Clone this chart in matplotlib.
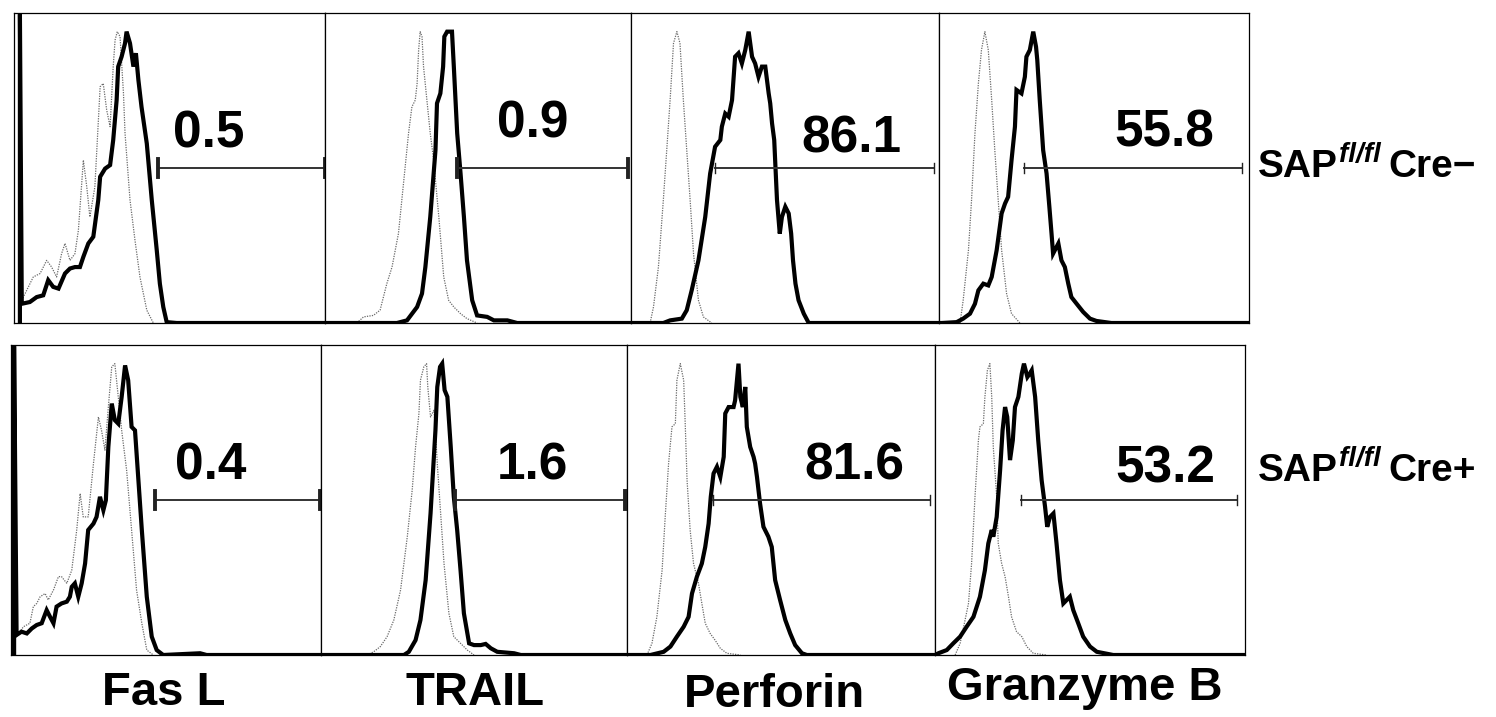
import matplotlib
matplotlib.use("Agg")
import matplotlib.pyplot as plt

plt.rcParams['font.family'] = ['Liberation Sans', 'DejaVu Sans']
plt.rcParams['font.weight'] = 'bold'

# Marcadores e genótipos
markers = ["Fas L", "TRAIL", "Perforin", "Granzyme B"]
geno_base = "SAP"
geno_sup = "fl/fl"
geno_cre = ["Cre−", "Cre+"]

# % de células positivas dentro do gate (linha 0 = Cre-, linha 1 = Cre+)
pct_neg = ["0.5", "0.9", "86.1", "55.8"]
pct_pos = ["0.4", "1.6", "81.6", "53.2"]

# Gates (início, fim) na escala 0-100 do eixo de fluorescência
gate_neg = [(46.3, 100.0), (43.1, 99.0), (27.4, 98.4), (27.4, 97.7)]
gate_pos = [(46.5, 99.7), (43.8, 99.3), (27.9, 98.4), (27.7, 97.4)]

# Histogramas (x = fluorescência 0-100, y = % do pico)
# --- Cre- ---
fasl_neg_x = [1.9, 1.9, 2.5, 5.1, 7.3, 9.4, 11.0, 12.6, 14.3, 16.4, 18.0, 19.6, 21.2, 22.3, 23.9, 25.5,
              27.1, 27.7, 29.3, 30.9, 31.9, 33.0, 33.5, 34.6, 35.7, 36.2, 37.3, 38.4, 39.2, 40.0,
              41.0, 42.7, 44.3, 45.9, 46.9, 48.0, 49.1, 52.3, 100]
fasl_neg_y = [0, 106, 6.6, 7.2, 8.9, 9.5, 14.7, 12.4, 11.8, 17.0, 18.7, 19.2, 19.2, 22.7, 27.3, 29.6,
              42.2, 50.2, 53.0, 54.2, 62.8, 76.5, 88.0, 91.4, 96.0, 100, 96.0, 88.0, 92.6, 83.4,
              74.2, 61.6, 42.2, 25.0, 13.5, 5.5, 0.3, 0, 0]
fasl_neg_iso_x = [2.5, 6.2, 8.4, 10.5, 12.1, 13.7, 15.3, 16.4, 18.0, 19.6, 20.7, 22.3, 23.4, 24.4, 26.0,
                  27.7, 28.7, 29.8, 30.9, 31.9, 32.5, 33.2, 34.1, 35.2, 35.7, 37.3, 38.9, 40.5,
                  42.7, 44.8]
fasl_neg_iso_y = [7.8, 15.8, 17.0, 21.5, 19.2, 15.8, 23.8, 27.3, 21.5, 23.8, 31.8, 55.9, 46.7, 36.4, 46.7,
                  81.1, 82.2, 73.1, 67.4, 88.0, 97.1, 100, 98.3, 78.8, 65.1, 42.2, 28.4, 15.8,
                  4.4, 0]

trail_neg_x = [0, 23.5, 26.8, 30.1, 31.7, 32.8, 34.4, 36.1, 36.6, 37.7, 38.6, 39.0, 39.9, 41.5, 42.1,
               43.2, 44.3, 45.4, 46.4, 48.1, 49.7, 53.0, 55.2, 59.6, 62.8, 100]
trail_neg_y = [0, 0, 0.9, 5.5, 10.1, 19.2, 36.4, 59.3, 75.4, 78.8, 88.0, 98.3, 100, 100, 88.0,
               65.1, 51.3, 36.4, 21.5, 7.8, 2.6, 2.1, 0.9, 0.9, 0, 0]
trail_neg_iso_x = [10.4, 12.6, 15.8, 18.0, 20.2, 21.9, 24.0, 26.2, 27.3, 28.4, 29.5, 30.1, 30.6, 31.1,
                   31.7, 32.2, 33.3, 34.4, 35.5, 37.2, 38.8, 40.4, 42.1, 44.3, 46.4, 49.7]
trail_neg_iso_y = [0, 2.1, 2.6, 4.4, 13.5, 19.2, 30.7, 53.6, 65.1, 74.2, 76.5, 82.2, 93.7, 100,
                   98.3, 88.0, 76.5, 65.1, 55.9, 36.4, 15.8, 7.8, 5.5, 3.2, 1.5, 0]

perf_neg_x = [0, 10.5, 12.7, 16.5, 18.1, 19.7, 21.9, 24.1, 25.7, 27.3, 29.0, 29.5, 30.6, 31.7, 32.8,
              33.8, 34.9, 36.0, 37.1, 38.2, 39.3, 40.3, 41.4, 42.5, 43.6, 44.7, 45.2, 45.8, 46.5,
              46.9, 47.4, 48.3, 49.0, 50.1, 51.2, 52.0, 52.6, 53.4, 54.4, 56.1, 57.7, 100]
perf_neg_y = [0, 0, 0.9, 1.5, 4.4, 11.2, 21.5, 36.4, 51.3, 60.5, 62.8, 67.4, 71.9, 70.8, 76.5,
              91.4, 92.6, 89.1, 93.7, 100, 91.4, 89.1, 84.5, 88.0, 88.0, 78.8, 75.4, 68.5, 62.8,
              53.6, 42.2, 30.7, 36.4, 39.9, 37.6, 30.7, 21.5, 13.5, 7.8, 3.2, 0, 0]
perf_neg_iso_x = [6.2, 7.3, 8.9, 10.5, 11.6, 12.7, 13.8, 14.9, 15.9, 17.0, 18.1, 19.2, 20.3, 21.9,
                  23.5, 26.2]
perf_neg_iso_y = [0, 5.5, 19.2, 42.2, 59.3, 76.5, 96.0, 100, 96.0, 76.5, 59.3, 42.2, 23.8, 7.8,
                  2.1, 0]

gzmb_neg_x = [0, 0.9, 5.7, 7.8, 10.0, 11.6, 12.7, 14.3, 15.9, 17.0, 18.6, 20.2, 21.3, 22.3, 23.4, 24.5,
              25.0, 26.6, 27.7, 28.2, 29.3, 30.4, 31.3, 31.7, 32.5, 33.6, 34.7, 35.6, 36.3, 36.8,
              38.5, 39.5, 40.6, 41.7, 42.7, 44.4, 46.5, 48.7, 50.8, 55.6, 100]
gzmb_neg_y = [0, 0, 0.3, 1.5, 3.2, 6.6, 11.2, 13.5, 12.9, 15.8, 25.0, 37.6, 41.0, 43.3, 55.9, 67.4,
              80.0, 78.8, 84.5, 91.4, 93.7, 100, 94.8, 90.3, 76.5, 59.3, 51.3, 39.9, 30.7, 23.8,
              27.3, 21.5, 19.2, 13.5, 8.9, 6.6, 3.8, 1.5, 0.7, 0, 0]
gzmb_neg_iso_x = [6.8, 7.8, 9.5, 10.5, 11.6, 12.7, 13.7, 14.8, 15.9, 17.0, 18.0, 19.1, 20.2, 21.8,
                  23.4, 26.1]
gzmb_neg_iso_y = [0, 7.8, 25.0, 42.2, 65.1, 82.2, 93.7, 100, 93.7, 76.5, 59.3, 42.2, 25.0, 10.1,
                  3.2, 0]

# --- Cre+ ---
fasl_pos_x = [1.0, 1.0, 1.8, 3.4, 5.1, 6.7, 8.3, 9.9, 11.5, 12.6, 13.7, 14.7, 16.3, 18.0, 19.0, 19.6,
              20.6, 21.7, 22.8, 23.9, 24.9, 26.6, 27.6, 28.7, 29.8, 30.6, 31.4, 32.5, 33.5, 34.6,
              35.7, 36.8, 37.8, 38.9, 40.0, 41.1, 42.2, 43.8, 45.4, 47.0, 49.1, 61.0, 63.1, 100]
fasl_pos_y = [0, 106, 6.9, 8.0, 7.4, 9.1, 10.3, 10.9, 15.4, 13.1, 10.9, 16.6, 17.7, 18.3, 20.0, 23.4,
              24.6, 20.0, 24.6, 31.4, 42.9, 45.1, 47.4, 54.3, 49.7, 53.1, 71.4, 86.3, 80.6, 79.4,
              88.6, 99.4, 94.3, 78.3, 77.1, 60.0, 42.9, 20.0, 6.3, 1.7, 0, 0.6, 0, 0]
fasl_pos_iso_x = [1.8, 4.0, 6.1, 7.2, 8.3, 9.4, 11.0, 12.0, 13.7, 15.3, 16.3, 18.0, 19.6, 21.2, 22.3,
                  23.3, 24.9, 26.6, 28.2, 29.2, 30.3, 31.4, 32.5, 33.5, 34.6, 35.7, 37.3, 38.9,
                  40.5, 42.2, 43.8, 45.9]
fasl_pos_iso_y = [6.3, 9.7, 10.9, 16.6, 17.7, 20.0, 21.1, 18.9, 22.3, 26.9, 26.9, 24.6, 29.1, 42.9, 55.4,
                  47.4, 47.4, 65.7, 81.7, 77.1, 70.3, 85.1, 98.9, 100, 88.6, 77.1, 63.4, 42.9,
                  22.3, 10.9, 1.7, 0]

trail_pos_x = [0, 27.1, 28.7, 30.9, 32.5, 34.2, 35.8, 37.4, 38.0, 38.9, 39.6, 40.4, 41.3, 42.4, 43.4,
               44.5, 45.6, 46.7, 48.4, 50.0, 52.2, 53.8, 55.5, 57.6, 63.1, 65.3, 100]
trail_pos_y = [0, 0, 1.1, 5.1, 12.0, 25.7, 48.6, 77.1, 92.0, 98.9, 100, 90.9, 88.6, 71.4, 54.3,
               42.9, 29.1, 14.3, 4.0, 3.4, 3.4, 3.8, 2.3, 1.1, 0.6, 0, 0]
trail_pos_iso_x = [15.1, 17.2, 19.4, 21.6, 23.8, 26.0, 28.2, 29.8, 30.9, 32.0, 32.5, 33.6, 34.5, 34.9,
                   35.8, 36.9, 37.4, 38.0, 39.1, 40.2, 41.8, 43.4, 45.6, 47.8, 50.0]
trail_pos_iso_y = [0, 1.1, 2.9, 6.3, 12.0, 22.3, 40.6, 56.6, 71.4, 82.9, 94.3, 98.9, 100, 92.0,
                   81.7, 84.0, 77.1, 65.7, 48.6, 31.4, 14.3, 6.3, 4.0, 1.7, 0]

perf_pos_x = [0, 7.6, 11.9, 14.1, 16.2, 18.4, 20.0, 21.1, 22.7, 24.3, 25.4, 26.5, 27.2, 28.1, 29.2,
              30.3, 31.4, 31.9, 33.0, 34.6, 35.1, 36.2, 36.8, 37.6, 38.4, 38.9, 40.0, 41.1, 41.6,
              42.2, 43.2, 44.3, 45.9, 47.0, 48.1, 49.7, 51.4, 53.0, 54.6, 56.8, 58.4, 100]
perf_pos_y = [0, 0, 1.1, 2.9, 6.3, 9.7, 13.1, 21.1, 26.9, 31.4, 37.1, 45.1, 54.3, 62.3, 64.6,
              61.1, 68.0, 82.9, 85.1, 85.1, 87.4, 100, 88.6, 85.1, 92.0, 78.3, 71.4, 68.0, 65.7,
              61.1, 52.0, 44.0, 40.6, 37.1, 25.7, 18.9, 12.0, 7.4, 3.4, 0.6, 0, 0]
perf_pos_iso_x = [6.5, 8.1, 9.7, 11.4, 12.4, 13.5, 14.6, 15.7, 16.2, 17.3, 18.4, 18.9, 19.5, 20.5,
                  21.6, 23.2, 24.3, 25.4, 27.0, 28.6, 30.3, 32.4, 36.8]
perf_pos_iso_y = [0, 4.0, 13.1, 29.1, 47.4, 65.7, 78.3, 79.4, 94.3, 100, 94.3, 79.4, 60.0, 42.9,
                  31.4, 24.6, 17.7, 10.9, 7.4, 5.1, 2.3, 0.6, 0]

gzmb_pos_x = [0, 1.1, 3.8, 5.9, 8.1, 10.2, 12.4, 14.5, 16.1, 17.2, 18.3, 18.8, 19.9, 21.0, 21.8, 22.6,
              23.3, 24.2, 25.1, 25.8, 26.9, 28.0, 28.7, 29.8, 30.6, 31.2, 32.3, 33.3, 34.4, 35.5,
              36.2, 37.1, 38.2, 39.2, 40.3, 41.4, 42.5, 43.5, 44.6, 46.2, 47.8, 50.0, 52.2, 57.5, 100]
gzmb_pos_y = [0, 0.6, 1.7, 4.0, 6.3, 9.7, 13.1, 20.0, 29.1, 38.3, 42.9, 40.6, 47.4, 63.4, 77.1, 85.1,
              81.7, 66.9, 73.7, 85.1, 88.6, 96.6, 100, 95.4, 96.6, 97.7, 88.6, 73.7, 60.0, 50.9,
              44.0, 47.4, 48.6, 38.3, 25.7, 17.7, 18.9, 20.0, 15.4, 10.9, 6.3, 2.9, 1.1, 0, 0]
gzmb_pos_iso_x = [6.5, 8.1, 9.7, 10.8, 11.8, 12.9, 14.0, 14.5, 15.6, 16.1, 16.9, 17.7, 18.3, 18.8,
                  19.9, 20.4, 21.5, 22.6, 23.7, 24.7, 26.3, 28.0, 29.6, 31.7, 36.0]
gzmb_pos_iso_y = [0, 4.0, 12.0, 17.7, 31.4, 54.3, 73.7, 78.3, 79.4, 88.6, 97.7, 100, 88.6, 71.4,
                  54.3, 38.3, 31.4, 26.9, 20.0, 13.1, 8.0, 6.3, 2.9, 0.6, 0]

# Organização por linha (genótipo) e coluna (marcador)
sample_curves = [
    [(fasl_neg_x, fasl_neg_y), (trail_neg_x, trail_neg_y),
     (perf_neg_x, perf_neg_y), (gzmb_neg_x, gzmb_neg_y)],
    [(fasl_pos_x, fasl_pos_y), (trail_pos_x, trail_pos_y),
     (perf_pos_x, perf_pos_y), (gzmb_pos_x, gzmb_pos_y)],
]
iso_curves = [
    [(fasl_neg_iso_x, fasl_neg_iso_y), (trail_neg_iso_x, trail_neg_iso_y),
     (perf_neg_iso_x, perf_neg_iso_y), (gzmb_neg_iso_x, gzmb_neg_iso_y)],
    [(fasl_pos_iso_x, fasl_pos_iso_y), (trail_pos_iso_x, trail_pos_iso_y),
     (perf_pos_iso_x, perf_pos_iso_y), (gzmb_pos_iso_x, gzmb_pos_iso_y)],
]
pcts = [pct_neg, pct_pos]
gates = [gate_neg, gate_pos]

W, H = 1496, 717
fig = plt.figure(figsize=(W / 100, H / 100), dpi=100)

# posições dos painéis em pixels (esquerda de cada painel, borda direita final)
row_lefts = [[14, 325, 631, 939, 1249], [11, 321, 627, 935, 1245]]
row_tops = [13, 345]
panel_h = 310
ytop = 106.4

# posição dos números (fração do eixo)
txt_x = [[0.627, 0.68, 0.715, 0.726], [0.645, 0.69, 0.737, 0.742]]
txt_y = [[0.565, 0.60, 0.55, 0.568], [0.565, 0.565, 0.565, 0.558]]
cap_big = [True, True, False, False]

for r in range(2):
    lefts = row_lefts[r]
    for c in range(4):
        x0, x1 = lefts[c], lefts[c + 1]
        ax = fig.add_axes([x0 / W, (H - row_tops[r] - panel_h) / H, (x1 - x0) / W, panel_h / H])
        ax.set_xlim(0, 100)
        ax.set_ylim(0, ytop)
        ax.set_xticks([])
        ax.set_yticks([])
        for s in ax.spines.values():
            s.set_linewidth(0.9)

        ix, iy = iso_curves[r][c]
        ax.plot(ix, iy, color='#6a6a6a', lw=0.9, ls=(0, (1, 1)))
        sx, sy = sample_curves[r][c]
        ax.plot(sx, sy, color='black', lw=3.0, solid_joinstyle='miter')

        # gate
        g0, g1 = gates[r][c]
        gy = 0.5 * ytop
        ax.plot([g0, g1], [gy, gy], color='#333333', lw=1.4, clip_on=False)
        if cap_big[c]:
            ch, cw = 3.0, 2.8
        else:
            ch, cw = 1.8, 1.0
        for gx in (g0, g1):
            ax.plot([gx, gx], [gy - ch, gy + ch], color='#222222', lw=cw, clip_on=False)

        ax.text(txt_x[r][c], txt_y[r][c], pcts[r][c], transform=ax.transAxes,
                ha='center', va='baseline', fontsize=37, fontweight='bold')

# rótulos das colunas
col_x = [164, 475, 774, 1085]
col_base = [705, 705, 707, 700]
for m, cx, cb in zip(markers, col_x, col_base):
    fig.text(cx / W, (H - cb) / H, m, ha='center', va='baseline', fontsize=34, fontweight='bold')

# rótulos das linhas: SAP + sobrescrito fl/fl em itálico + Cre-/Cre+
renderer = fig.canvas.get_renderer()
row_base = [177, 481]
for cre, rb in zip(geno_cre, row_base):
    yb = (H - rb) / H
    t1 = fig.text(1258 / W, yb, geno_base, ha='left', va='baseline', fontsize=28, fontweight='bold')
    x_end = t1.get_window_extent(renderer).x1
    t2 = fig.text((x_end + 1) / W, yb + 15 / H, geno_sup, ha='left', va='baseline',
                  fontsize=20, fontweight='bold', fontstyle='italic')
    x_end = t2.get_window_extent(renderer).x1
    fig.text((x_end + 8) / W, yb, cre, ha='left', va='baseline', fontsize=28, fontweight='bold')

fig.savefig("out.png", dpi=100)
